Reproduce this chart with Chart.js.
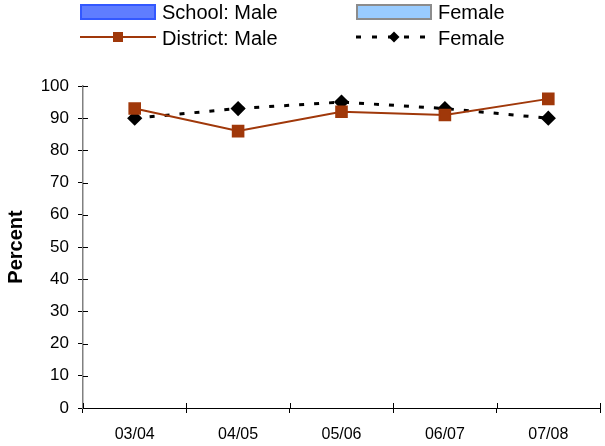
<!DOCTYPE html>
<html>
<head>
<meta charset="utf-8">
<script src="https://cdn.jsdelivr.net/npm/chart.js@4/dist/chart.umd.min.js"></script>
<style>
  body { margin: 0; background: #fff; font-family: "Liberation Sans", Arial, sans-serif; }
  #wrap { position: relative; width: 605px; height: 446px; }
  #chart { position: absolute; left: 0; top: 0; }
  .lg { position: absolute; font-size: 20px; color: #000; line-height: 20px; white-space: nowrap; }
  .lg svg { position: absolute; left: 0; top: 0; }
  .lg span { position: absolute; left: 82px; top: 0; }
</style>
</head>
<body>
<div id="wrap">
  <canvas id="chart" width="605" height="446"></canvas>
  <div class="lg" style="left:80px;top:2px;">
    <svg width="78" height="20"><rect x="1" y="3" width="74" height="14" fill="#5f7dff" stroke="#3358ff" stroke-width="2"/></svg>
    <span>School: Male</span>
  </div>
  <div class="lg" style="left:356px;top:2px;">
    <svg width="78" height="20"><rect x="1" y="3" width="74" height="14" fill="#99ccff" stroke="#8c8c8c" stroke-width="2"/></svg>
    <span>Female</span>
  </div>
  <div class="lg" style="left:80px;top:28px;">
    <svg width="78" height="20"><line x1="0" y1="9" x2="76" y2="9" stroke="#a0380a" stroke-width="2"/><rect x="33" y="4" width="10" height="10" fill="#a0380a"/></svg>
    <span>District: Male</span>
  </div>
  <div class="lg" style="left:356px;top:28px;">
    <svg width="78" height="20"><line x1="0" y1="9" x2="77" y2="9" stroke="#000" stroke-width="3" stroke-dasharray="5,11"/><polygon points="38,3.5 43.5,9 38,14.5 32.5,9" fill="#000"/></svg>
    <span>Female</span>
  </div>
</div>
<script>
const years = ['03/04', '04/05', '05/06', '06/07', '07/08'];
const schoolMale = [null, null, null, null, null];
const schoolFemale = [null, null, null, null, null];
const districtMale = [93, 86, 92, 91, 96];
const districtFemale = [90, 93, 95, 93, 90];

// short tick halves on the inside of both axes, like the original
const innerTicks = {
    id: 'innerTicks',
    afterDraw(chart) {
        const c = chart.ctx;
        const x = chart.scales.x, y = chart.scales.y;
        c.save();
        c.strokeStyle = '#000';
        c.lineWidth = 1;
        c.beginPath();
        y.ticks.forEach((t, i) => {
            const py = Math.round(y.getPixelForTick(i)) + 0.5;
            c.moveTo(y.right, py);
            c.lineTo(y.right + 5, py);
        });
        const n = x.ticks.length;
        for (let i = 0; i <= n; i++) {
            const px = Math.round(x.left + (x.right - x.left) * i / n) + 0.5;
            c.moveTo(px, x.top);
            c.lineTo(px, x.top - 5);
        }
        c.stroke();
        c.restore();
    }
};

const ctx = document.getElementById('chart');
new Chart(ctx, {
    type: 'line',
    data: {
        labels: years,
        datasets: [{
            type: 'bar',
            label: 'School: Male',
            data: schoolMale,
            backgroundColor: '#5f7dff'
        }, {
            type: 'bar',
            label: 'Female',
            data: schoolFemale,
            backgroundColor: '#99ccff'
        }, {
            label: 'District: Male',
            data: districtMale,
            borderColor: '#a0380a',
            backgroundColor: '#a0380a',
            borderWidth: 2,
            pointStyle: 'rect',
            pointRadius: 7.5,
            pointHoverRadius: 7.5,
            tension: 0
        }, {
            label: 'Female',
            data: districtFemale,
            borderColor: '#000',
            backgroundColor: '#000',
            borderWidth: 3,
            borderDash: [5, 10],
            pointStyle: 'rectRot',
            pointRadius: 5.5,
            pointHoverRadius: 5.5,
            tension: 0
        }]
    },
    options: {
        responsive: false,
        animation: false,
        layout: { autoPadding: false, padding: { top: 86, right: 5, left: 0, bottom: 0 } },
        plugins: {
            legend: { display: false },
            tooltip: { enabled: false }
        },
        scales: {
            x: {
                offset: true,
                afterFit: (scale) => {
                    scale.height = 38;
                    scale.paddingLeft = 0;
                    scale.paddingRight = 0;
                },
                grid: {
                    offset: true,
                    drawOnChartArea: false,
                    color: '#000',
                    tickLength: 5
                },
                border: { color: '#000', width: 1 },
                ticks: {
                    color: '#000',
                    font: { family: 'Liberation Sans', size: 16 },
                    padding: 12
                }
            },
            y: {
                min: 0,
                max: 100,
                afterFit: (scale) => { scale.width = 83; },
                grid: {
                    drawOnChartArea: false,
                    color: '#000',
                    tickLength: 5
                },
                border: { color: '#808080', width: 1.5 },
                ticks: {
                    stepSize: 10,
                    color: '#000',
                    font: { family: 'Liberation Sans', size: 17 },
                    padding: 9
                },
                title: {
                    display: true,
                    text: 'Percent',
                    color: '#000',
                    font: { family: 'Liberation Sans', size: 20, weight: 'bold' },
                    padding: { top: 4, bottom: 0 }
                }
            }
        }
    },
    plugins: [innerTicks]
});
</script>
</body>
</html>
